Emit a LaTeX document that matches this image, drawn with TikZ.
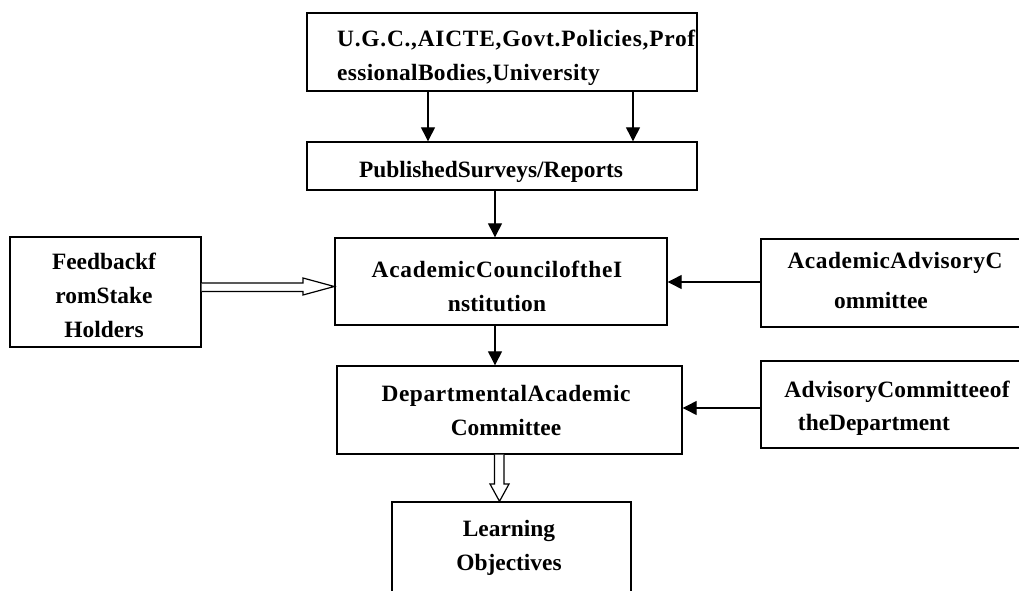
\documentclass[tikz,border=0pt]{standalone}
\usepackage{fontspec}
\setmainfont{Liberation Serif}
\usetikzlibrary{arrows.meta,calc}
\newcommand{\spc}[2]{{\addfontfeature{LetterSpace=#1}#2}}
\begin{document}
\begin{tikzpicture}[x=1pt,y=-1pt,
  box/.style={draw=black,line width=1.4pt,rectangle,inner sep=0pt},
  lbl/.style={inner sep=0pt,font=\fontsize{23.4}{34}\selectfont\bfseries,align=center},
  arr/.style={line width=1.3pt,-{Triangle[length=14pt,width=14pt]}},
  dbl/.style={line width=1.2pt,fill=white,line join=miter}]
\clip (0,0) rectangle (1019,591);
\fill[white] (0,0) rectangle (1019,591);
% boxes
\node[box,minimum width=390pt,minimum height=78pt] (top) at (502,52) {};
\node[box,minimum width=390pt,minimum height=48pt] (pub) at (502,166) {};
\node[box,minimum width=332pt,minimum height=87pt] (ac) at (501,281.5) {};
\node[box,minimum width=191pt,minimum height=110pt] (fb) at (105.5,292) {};
\node[box,minimum width=280pt,minimum height=88pt] (aac) at (901,283) {};
\node[box,minimum width=345pt,minimum height=88pt] (dac) at (509.5,410) {};
\node[box,minimum width=280pt,minimum height=87pt] (acd) at (901,404.5) {};
\node[box,minimum width=239pt,minimum height=130pt] (lo) at (511.5,567) {};
% labels
\node[lbl,align=left,anchor=west] (ttop) at (337,57.5) {\spc{3.2}{U.G.C.,AICTE,Govt.Policies,Prof}\\\spc{1.5}{essionalBodies,University}};
\node[lbl] (tpub) at (491,172) {PublishedSurveys/Reports};
\node[lbl] (tac) at (497,286) {\spc{3}{AcademicCounciloftheI}\\\spc{1}{nstitution}};
\node[lbl] (tfb) at (104,295) {Feedbackf\\romStake\\Holders};
\node[lbl] (taac1) at (895,263) {\spc{2.2}{AcademicAdvisoryC}};
\node[lbl] (taac2) at (881,300) {ommittee};
\node[lbl] (tdac) at (506,410) {\spc{2.5}{DepartmentalAcademic}\\Committee};
\node[lbl] (tacd1) at (897,392) {\spc{1}{AdvisoryCommitteeof}};
\node[lbl] (tacd2) at (874,425) {theDepartment};
\node[lbl] (tlo) at (509,548) {Learning\\Objectives};
% arrows
\draw[arr] (top.south -| 428,0) -- (pub.north -| 428,0);
\draw[arr] (top.south -| 633,0) -- (pub.north -| 633,0);
\draw[arr] (pub.south -| 495,0) -- (ac.north -| 495,0);
\draw[arr] (ac.south -| 495,0) -- (dac.north -| 495,0);
\draw[arr] (aac.west |- 0,282) -- (ac.east |- 0,282);
\draw[arr] (acd.west |- 0,408) -- (dac.east |- 0,408);
% hollow double arrows
\draw[dbl] (fb.east |- 0,283) -- (303,283) -- (303,278) -- (ac.west |- 0,286.5) -- (303,295) -- (303,291.5) -- (fb.east |- 0,291.5);
\draw[dbl] (dac.south -| 494.5,0) -- (494.5,484) -- (490,484) -- (lo.north -| 499.5,0) -- (509,484) -- (504,484) -- (dac.south -| 504,0);
\end{tikzpicture}
\end{document}
